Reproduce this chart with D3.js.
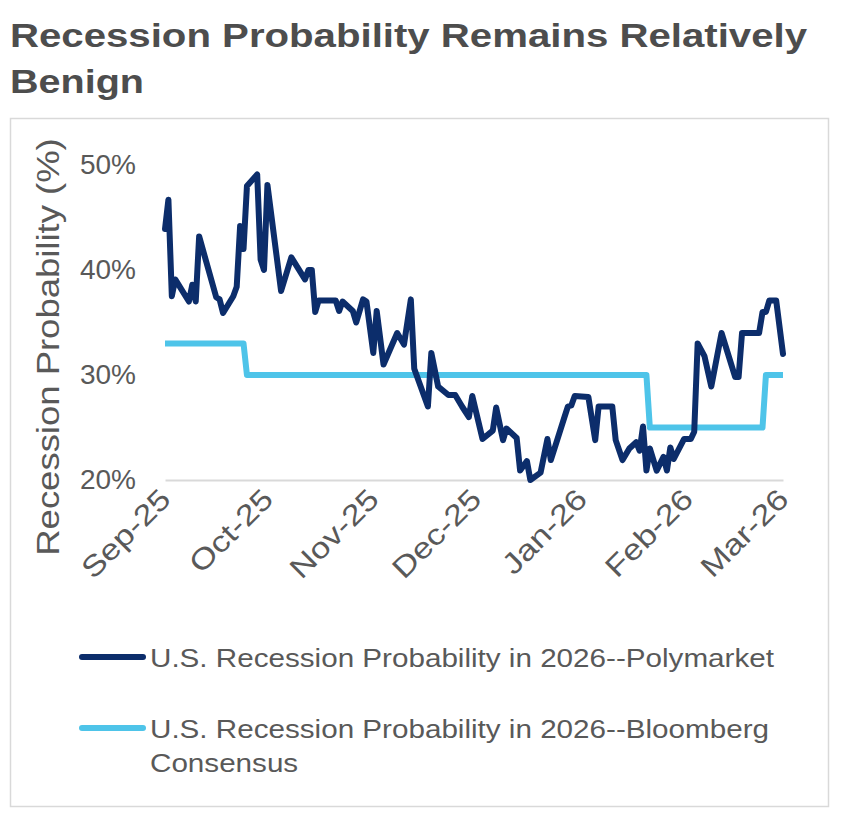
<!DOCTYPE html>
<html>
<head>
<meta charset="utf-8">
<script src="https://cdn.jsdelivr.net/npm/d3@7"></script>
<style>
  body { margin: 0; background: #fff; }
  text { font-family: "Liberation Sans", Arial, sans-serif; }
</style>
</head>
<body>
<div id="chart"></div>
<script>
var w = 841;
var h = 817;

// Polymarket readings (%)
var polyDates = ["2025-09-01","2025-09-02","2025-09-03","2025-09-04","2025-09-08","2025-09-09","2025-09-10","2025-09-11",
  "2025-09-16","2025-09-17","2025-09-18","2025-09-21","2025-09-22","2025-09-23","2025-09-24","2025-09-25",
  "2025-09-28","2025-09-29","2025-09-30","2025-10-01","2025-10-05","2025-10-08","2025-10-12","2025-10-13",
  "2025-10-14","2025-10-15","2025-10-16","2025-10-21","2025-10-22","2025-10-23","2025-10-26","2025-10-27",
  "2025-10-29","2025-10-30","2025-11-01","2025-11-02","2025-11-04","2025-11-08","2025-11-10","2025-11-12",
  "2025-11-13","2025-11-17","2025-11-18","2025-11-20","2025-11-23","2025-11-25","2025-11-27","2025-11-29",
  "2025-11-30","2025-12-03","2025-12-06","2025-12-07","2025-12-09","2025-12-10","2025-12-13","2025-12-14",
  "2025-12-16","2025-12-17","2025-12-20","2025-12-22","2025-12-23","2025-12-27","2025-12-28","2025-12-29",
  "2025-12-30","2026-01-03","2026-01-05","2026-01-06","2026-01-10","2026-01-11","2026-01-13","2026-01-15",
  "2026-01-17","2026-01-18","2026-01-19","2026-01-20","2026-01-21","2026-01-23","2026-01-25","2026-01-26",
  "2026-01-27","2026-01-28","2026-01-31","2026-02-02","2026-02-03","2026-02-04","2026-02-06","2026-02-08",
  "2026-02-11","2026-02-15","2026-02-16","2026-02-17","2026-02-22","2026-02-23","2026-02-24","2026-02-25",
  "2026-02-27","2026-03-01"];
var polyValues = [43.9,46.7,37.5,39.1,37.0,38.6,37.0,43.2,
  37.4,37.2,35.9,37.5,38.4,44.2,42.0,48.0,
  49.1,41.0,40.0,48.1,38.0,41.2,39.1,40.0,
  40.0,36.0,37.1,37.1,36.1,37.0,36.1,35.0,
  37.2,37.0,32.1,36.1,31.0,34.0,32.9,37.2,
  30.6,27.0,32.1,28.9,28.1,28.1,27.0,26.0,
  28.0,23.9,24.7,26.9,23.8,24.9,24.0,20.9,
  21.8,20.0,20.7,23.9,21.9,26.0,27.0,27.1,
  28.0,27.9,23.8,27.0,27.0,23.8,21.9,23.0,
  23.6,22.8,25.1,20.9,23.0,20.9,22.2,20.9,
  23.1,22.0,23.9,23.9,24.6,33.0,31.8,28.9,
  34.0,29.8,29.8,34.0,34.0,36.0,36.0,37.1,
  37.1,32.0];

// Bloomberg consensus (%), only where it changes
var bbgDates = ["2025-09-01","2025-09-24","2025-09-25","2026-01-20","2026-01-21","2026-02-23","2026-02-24","2026-03-01"];
var bbgValues = [33,33,30,30,25,25,30,30];

var seriesNames = ["U.S. Recession Probability in 2026--Polymarket",
                   "U.S. Recession Probability in 2026--Bloomberg Consensus"];
var seriesColors = ["#0c2d6b", "#4ec4e9"];

var monthTicks = ["2025-09-01","2025-10-01","2025-11-01","2025-12-01","2026-01-01","2026-02-01","2026-03-01"];
var yTicks = [20, 30, 40, 50];

var parse = d3.timeParse("%Y-%m-%d");
var poly = polyDates.map(function(d, i) { return {date: parse(d), value: polyValues[i]}; });
var bbg = bbgDates.map(function(d, i) { return {date: parse(d), value: bbgValues[i]}; });

var svg = d3.select("#chart")
            .append("svg")
            .attr("width", w)
            .attr("height", h);

// outer frame
svg.append("rect")
   .attr("x", 10.5).attr("y", 118.5)
   .attr("width", 818).attr("height", 688)
   .attr("fill", "none")
   .attr("stroke", "#d9d9d9")
   .attr("stroke-width", 1.5);

// title
var title = svg.append("text")
   .attr("fill", "#4d4d4d")
   .attr("font-family", "'DejaVu Sans', sans-serif")
   .attr("font-weight", "bold")
   .attr("font-size", 34);
title.append("tspan").attr("x", 10).attr("y", 47)
   .attr("textLength", 797).attr("lengthAdjust", "spacingAndGlyphs")
   .text("Recession Probability Remains Relatively");
title.append("tspan").attr("x", 10).attr("y", 93)
   .attr("textLength", 134).attr("lengthAdjust", "spacingAndGlyphs")
   .text("Benign");

var xScale = d3.scaleTime()
               .domain([parse(monthTicks[0]), parse(monthTicks[monthTicks.length - 1])])
               .range([165, 783]);
var yScale = d3.scaleLinear()
               .domain([20, 50])
               .range([480, 165]);

// x axis
var xAxis = svg.append("g")
   .attr("transform", "translate(0," + yScale(20) + ")")
   .call(d3.axisBottom(xScale)
           .tickValues(monthTicks.map(parse))
           .tickFormat(d3.timeFormat("%b-%y"))
           .tickSize(0)
           .tickSizeOuter(0));
xAxis.select(".domain").attr("stroke", "#d9d9d9").attr("stroke-width", 2);
xAxis.selectAll(".tick text")
   .attr("fill", "#595959")
   .attr("font-size", 29)
   .attr("text-anchor", "end")
   .attr("dy", 0)
   .attr("y", 0)
   .attr("transform", "translate(7,21) rotate(-45) scale(1.2,1)");

// y axis
var yAxis = svg.append("g")
   .attr("transform", "translate(136,0)")
   .call(d3.axisLeft(yScale)
           .tickValues(yTicks)
           .tickFormat(function(d) { return d + "%"; })
           .tickSize(0));
yAxis.select(".domain").remove();
yAxis.selectAll(".tick text")
   .attr("fill", "#595959")
   .attr("font-size", 28)
   .attr("x", 0);

svg.append("text")
   .attr("transform", "translate(59,347) rotate(-90) scale(1.14,1)")
   .attr("text-anchor", "middle")
   .attr("fill", "#595959")
   .attr("font-size", 32)
   .text("Recession Probability (%)");

var line = d3.line()
             .x(function(d) { return xScale(d.date); })
             .y(function(d) { return yScale(d.value); });

svg.append("path")
   .datum(bbg)
   .attr("d", line)
   .attr("fill", "none")
   .attr("stroke", seriesColors[1])
   .attr("stroke-width", 6)
   .attr("stroke-linejoin", "round");

svg.append("path")
   .datum(poly)
   .attr("d", line)
   .attr("fill", "none")
   .attr("stroke", seriesColors[0])
   .attr("stroke-width", 6)
   .attr("stroke-linejoin", "round")
   .attr("stroke-linecap", "round");

// legend
var legendY = [657, 728];
seriesNames.forEach(function(name, i) {
  svg.append("line")
     .attr("x1", 82).attr("x2", 143)
     .attr("y1", legendY[i]).attr("y2", legendY[i])
     .attr("stroke", seriesColors[i])
     .attr("stroke-width", 6)
     .attr("stroke-linecap", "round");
});
svg.append("text")
   .attr("transform", "translate(150," + (legendY[0] + 10) + ") scale(1.14,1)")
   .attr("fill", "#595959").attr("font-size", 26)
   .text(seriesNames[0]);
var leg2 = svg.append("text")
   .attr("transform", "translate(150," + (legendY[1] + 10) + ") scale(1.14,1)")
   .attr("fill", "#595959").attr("font-size", 26);
leg2.append("tspan").attr("x", 0).attr("y", 0)
   .text(seriesNames[1].replace(" Consensus", ""));
leg2.append("tspan").attr("x", 0).attr("y", 34)
   .text("Consensus");
</script>
</body>
</html>
